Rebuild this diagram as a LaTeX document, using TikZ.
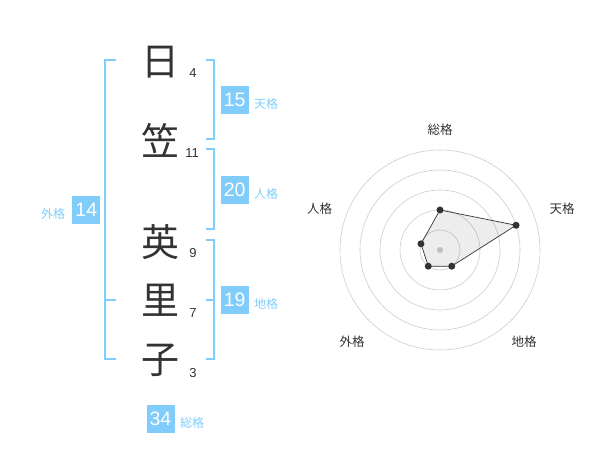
\documentclass[tikz,border=0pt]{standalone}
\usepackage{fontspec}
\usetikzlibrary{calc}
\setmainfont{Liberation Sans}
\newfontfamily\cjk{Noto Sans CJK JP}
\definecolor{kblue}{RGB}{128,204,250}
\definecolor{kdark}{RGB}{51,51,51}
\definecolor{kgrid}{RGB}{204,204,204}
\begin{document}
\begin{tikzpicture}[x=1pt,y=-1pt,
  kanji/.style={font=\cjk\fontsize{38}{38}\selectfont, text=kdark, inner sep=0pt},
  strokes/.style={font=\fontsize{13}{13}\selectfont, text=kdark, inner sep=0pt},
  valbox/.style={fill=kblue, text=white, font=\fontsize{19.5}{19.5}\selectfont, minimum width=28pt, minimum height=28pt, inner sep=0pt},
  vallabel/.style={font=\cjk\fontsize{12}{12}\selectfont, text=kblue, inner sep=0pt},
  brk/.style={draw=kblue, line width=1.5pt},
  gridring/.style={draw=kgrid, line width=0.6pt},
  axislabel/.style={font=\cjk\fontsize{12.5}{12.5}\selectfont, text=kdark, inner sep=0pt},
  datadot/.style={circle, fill=kdark, inner sep=0pt, minimum size=7pt},
]
\useasboundingbox (0,0) rectangle (600,470);

% name characters
\node[kanji] (k1) at (160,62) {日};
\node[kanji] (k2) at (160,140) {笠};
\node[kanji] (k3) at (160,242) {英};
\node[kanji] (k4) at (160,300) {里};
\node[kanji] (k5) at (160,360) {子};

% stroke counts
\node[strokes] (s1) at (193,73) {4};
\node[strokes] (s2) at (192,153) {11};
\node[strokes] (s3) at (193,253) {9};
\node[strokes] (s4) at (193,313) {7};
\node[strokes] (s5) at (193,373) {3};

% brackets
\draw[brk] (206,60) -- (214,60) -- (214,139) -- (206,139);
\draw[brk] (206,149) -- (214,149) -- (214,229) -- (206,229);
\draw[brk] (206,240) -- (214,240) -- (214,359) -- (206,359);
\draw[brk] (206,300) -- (214,300);
\draw[brk] (116,60) -- (105,60) -- (105,359) -- (116,359);
\draw[brk] (105,300) -- (116,300);

% value boxes
\node[valbox] (ten) at (234.7,100) {15};
\node[vallabel] (tenl) at (266,104) {天格};
\node[valbox] (jin) at (234.7,190) {20};
\node[vallabel] (jinl) at (266,194) {人格};
\node[valbox] (chi) at (234.7,300) {19};
\node[vallabel] (chil) at (266,304) {地格};
\node[valbox] (gai) at (86.3,210) {14};
\node[vallabel] (gail) at (53,214) {外格};
\node[valbox] (sou) at (160.5,419) {34};
\node[vallabel] (soul) at (192,423) {総格};

% radar chart
\coordinate (c) at (440,250);
\foreach \r in {20,40,60,80,100} \draw[gridring] (c) circle (\r);
\node[circle, fill=kgrid, inner sep=0pt, minimum size=6pt] (cdot) at (c) {};

\coordinate (pS) at ($(c)+(-90:40)$);
\coordinate (pT) at ($(c)+(-18:80)$);
\coordinate (pC) at ($(c)+(54:20)$);
\coordinate (pG) at ($(c)+(126:20)$);
\coordinate (pJ) at ($(c)+(198:20)$);
\fill[black, fill opacity=0.07] (pS) -- (pT) -- (pC) -- (pG) -- (pJ) -- cycle;
\draw[kdark, line width=0.7pt] (pS) -- (pT) -- (pC) -- (pG) -- (pJ) -- cycle;
\foreach \p in {pS,pT,pC,pG,pJ} \node[datadot] (d\p) at (\p) {};

\node[axislabel] (aS) at (440,130) {総格};
\node[axislabel] (aT) at (562,208.5) {天格};
\node[axislabel] (aJ) at (319.5,208.5) {人格};
\node[axislabel] (aG) at (352,342) {外格};
\node[axislabel] (aC) at (524,342) {地格};
\end{tikzpicture}
\end{document}
